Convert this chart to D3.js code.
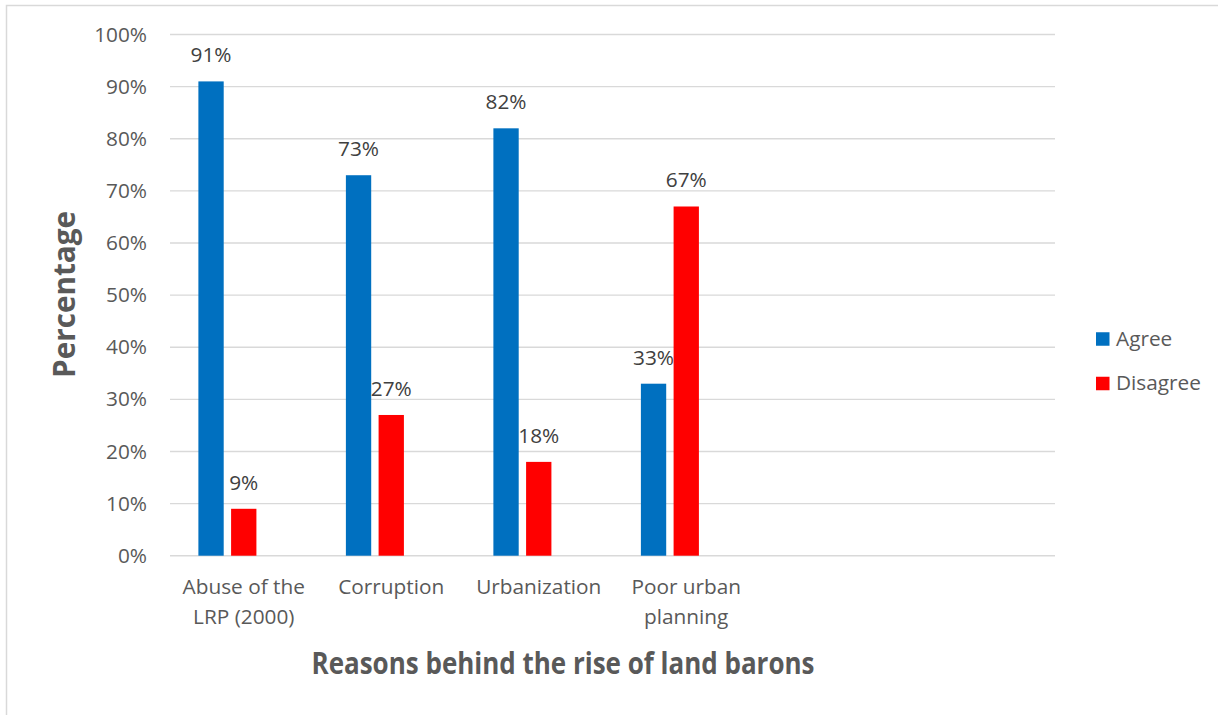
<!DOCTYPE html>
<html>
<head>
<meta charset="utf-8">
<title>Reasons behind the rise of land barons</title>
<script src="https://cdn.jsdelivr.net/npm/d3@7"></script>
<style>
  html, body { margin: 0; padding: 0; background: #fff; }
  svg { display: block; }
  text { font-family: "Open Sans", "DejaVu Sans", sans-serif; }
</style>
</head>
<body>
<svg id="chart" width="1218" height="715"></svg>
<script>
// Survey responses (percent) per reason; the last two category slots are empty.
const categories = ["Abuse of the LRP (2000)", "Corruption", "Urbanization", "Poor urban planning", "", ""];
const agree = [91, 73, 82, 33, null, null];
const disagree = [9, 27, 18, 67, null, null];
const seriesNames = ["Agree", "Disagree"];
const seriesColors = ["#0070C0", "#FF0000"];
const yTicks = [0, 10, 20, 30, 40, 50, 60, 70, 80, 90, 100];
const xTitle = "Reasons behind the rise of land barons";
const yTitle = "Percentage";

const svg = d3.select("#chart");
const W = 1218, H = 715;
const plot = { left: 170, right: 1055, top: 34.5, bottom: 555.7 };
const FS = 20.8;

// Chart frame
svg.append("rect")
  .attr("x", 6.5).attr("y", 5.5)
  .attr("width", W + 10).attr("height", H + 10)
  .attr("fill", "#fff").attr("stroke", "#d9d9d9").attr("stroke-width", 1.5);

const x0 = d3.scaleBand()
  .domain(d3.range(categories.length))
  .range([plot.left, plot.right])
  .padding(0);

// Three slots per category: two series plus one unused slot
const x1 = d3.scaleBand()
  .domain([0, 1, 2])
  .range([0, x0.bandwidth()])
  .paddingInner(0.226)
  .paddingOuter(0.868);

const y = d3.scaleLinear().domain([0, 100]).range([plot.bottom, plot.top]);

// Gridlines
svg.append("g")
  .selectAll("line")
  .data(yTicks)
  .join("line")
  .attr("x1", plot.left).attr("x2", plot.right)
  .attr("y1", d => y(d)).attr("y2", d => y(d))
  .attr("stroke", "#d9d9d9").attr("stroke-width", 1.4);

// Y axis tick labels
const yAxis = d3.axisLeft(y).tickValues(yTicks).tickFormat(d => d + "%").tickSize(0).tickPadding(0);
const yg = svg.append("g").attr("transform", `translate(147,0)`).call(yAxis);
yg.select(".domain").remove();
yg.selectAll("text")
  .attr("font-size", FS)
  .attr("fill", "#595959")
  .attr("font-family", "'Open Sans', sans-serif");

// Bars and value labels
const series = [agree, disagree];
series.forEach((vals, si) => {
  const rows = vals.map((v, i) => ({ i, v })).filter(d => d.v != null);
  const g = svg.append("g");
  g.selectAll("rect")
    .data(rows)
    .join("rect")
    .attr("x", d => x0(d.i) + x1(si))
    .attr("width", x1.bandwidth())
    .attr("y", d => y(d.v))
    .attr("height", d => y(0) - y(d.v))
    .attr("fill", seriesColors[si]);
  g.selectAll("text")
    .data(rows)
    .join("text")
    .attr("x", d => x0(d.i) + x1(si) + x1.bandwidth() / 2)
    .attr("y", d => y(d.v) - 19)
    .attr("text-anchor", "middle")
    .attr("font-size", FS)
    .attr("fill", "#404040")
    .text(d => d.v + "%");
});

// Category labels, wrapped to the band width
const measure = svg.append("text").attr("font-size", FS).attr("visibility", "hidden");
function wrapWords(str, maxW) {
  const words = str.split(" ");
  const lines = [];
  let cur = "";
  words.forEach(w => {
    const t = cur ? cur + " " + w : w;
    measure.text(t);
    if (measure.node().getComputedTextLength() > maxW && cur) {
      lines.push(cur);
      cur = w;
    } else {
      cur = t;
    }
  });
  if (cur) lines.push(cur);
  return lines;
}
const xg = svg.append("g");
categories.forEach((c, i) => {
  if (!c) return;
  const lines = wrapWords(c, 140);
  const t = xg.append("text")
    .attr("text-anchor", "middle")
    .attr("font-size", FS)
    .attr("fill", "#595959");
  lines.forEach((ln, k) => {
    t.append("tspan")
      .attr("x", x0(i) + x0.bandwidth() / 2)
      .attr("y", 594 + k * 30)
      .text(ln);
  });
});
measure.remove();

// Axis titles
svg.append("text")
  .attr("x", 563).attr("y", 674)
  .attr("text-anchor", "middle")
  .attr("font-size", 30).attr("font-weight", "bold")
  .attr("fill", "#595959")
  .attr("textLength", 503).attr("lengthAdjust", "spacingAndGlyphs")
  .text(xTitle);

svg.append("text")
  .attr("transform", `translate(74.5,294.5) rotate(-90)`)
  .attr("text-anchor", "middle")
  .attr("font-size", 30).attr("font-weight", "bold")
  .attr("fill", "#595959")
  .attr("textLength", 167).attr("lengthAdjust", "spacingAndGlyphs")
  .text(yTitle);

// Legend
const legend = svg.append("g");
seriesNames.forEach((name, i) => {
  const cy = 339 + i * 44.5;
  legend.append("rect")
    .attr("x", 1096).attr("y", cy - 6.75)
    .attr("width", 13.5).attr("height", 13.5)
    .attr("fill", seriesColors[i]);
  legend.append("text")
    .attr("x", 1116).attr("y", cy + 6.5)
    .attr("font-size", FS)
    .attr("fill", "#595959")
    .text(name);
});
</script>
</body>
</html>
